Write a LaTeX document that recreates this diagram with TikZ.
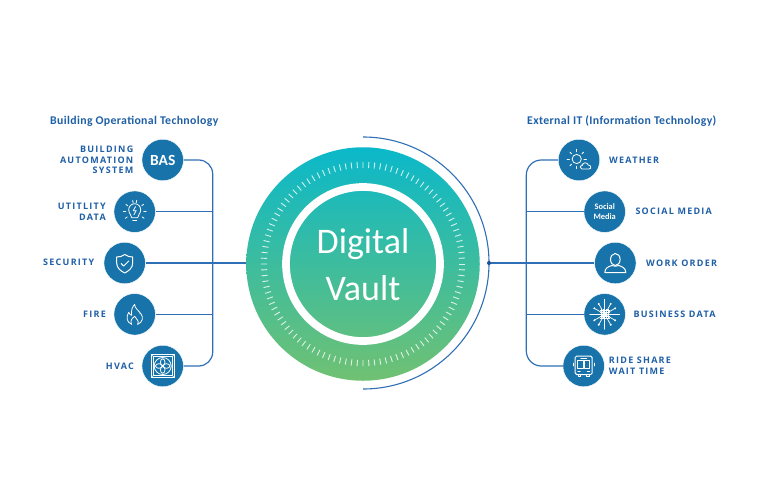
\documentclass[tikz,border=0pt]{standalone}
\usepackage{fontspec}
\setmainfont{Carlito}
\newfontfamily\tagfont[LetterSpace=14]{Open Sans}
\newfontfamily\headfont[LetterSpace=3]{Carlito}
\definecolor{hubblue}{HTML}{1773A9}
\definecolor{linkblue}{HTML}{2F6FB5}
\definecolor{dotblue}{HTML}{1A4F96}
\definecolor{textblue}{HTML}{1F5FA6}
\definecolor{vaulttop}{HTML}{0AB8CA}
\definecolor{vaultbot}{HTML}{70C172}
\tikzset{
  hub/.style={circle,fill=hubblue,draw=white,line width=.4pt,minimum size=41.5pt,inner sep=0pt,text=white,font=\bfseries,align=center},
  tag/.style={text=textblue,inner sep=0pt,font=\tagfont\bfseries\fontsize{9pt}{10.6pt}\selectfont},
  head/.style={text=textblue,inner sep=0pt,font=\headfont\bfseries\fontsize{11.8pt}{14pt}\selectfont},
  link/.style={linkblue,line width=1.2pt},
  icon/.style={white,line width=.8pt,line cap=round,line join=round},
  bulbicon/.pic={
    \draw[icon] (-3,6) .. controls (-3,3) and (-6,2) .. (-6,-2) arc[start angle=180,end angle=0,radius=6pt] .. controls (6,2) and (3,3) .. (3,6) -- cycle;
    \draw[icon] (-2,8.5) -- (2,8.5);
    \draw[icon] (.8,-5) -- (-1.5,-1) -- (1.5,-1) -- (-.8,3);
    \foreach \a in {0,40,80,100,140,180,215,325}
      \draw[icon] (\a:-9) -- (\a:-11.5);
  },
  shieldicon/.pic={
    \draw[icon,line width=1pt] (0,-8.5) .. controls (3,-6.5) and (5,-6) .. (8,-6) -- (8,0) .. controls (8,5) and (4,8) .. (0,10) .. controls (-4,8) and (-8,5) .. (-8,0) -- (-8,-6) .. controls (-5,-6) and (-3,-6.5) .. cycle;
    \draw[icon,line width=1pt] (-3.5,.5) -- (-1,3) -- (4,-2);
  },
  flameicon/.pic={
    \draw[icon] (-3,10) .. controls (-8,8) and (-9,3) .. (-6,-2) .. controls (-5,0) and (-4,1) .. (-3,1) .. controls (-4,-4) and (-2,-8) .. (0,-10) .. controls (0,-6) and (3,-5) .. (5,-2) .. controls (5,-1) and (6,0) .. (6,-1) .. controls (9,3) and (8,8) .. (3,10);
    \draw[icon] (-3,10) .. controls (-5,7) and (-3,4) .. (0,2) .. controls (1,5) and (5,6) .. (3,10);
  },
  fanicon/.pic={
    \draw[icon] (-11.5,-11.5) rectangle (11.5,11.5);
    \draw[icon,line width=.5pt] (-9.5,-9.5) rectangle (9.5,9.5);
    \draw[icon] (0,0) circle[radius=8.5pt];
    \foreach \a in {0,90,180,270}
      \draw[icon,rotate=\a] (3.8,0) ellipse[x radius=3.4pt,y radius=2.3pt];
    \draw[icon,line width=.5pt] (-11.5,-11.5) -- (-9.5,-9.5) (11.5,11.5) -- (9.5,9.5) (-11.5,11.5) -- (-9.5,9.5) (11.5,-11.5) -- (9.5,-9.5);
  },
  sunicon/.pic={
    \draw[icon] (-2.3,-1) circle[radius=4.6pt];
    \foreach \a in {0,45,...,315}
      \draw[icon] (-2.3,-1) ++(\a:7.2) -- ++(\a:2.5);
    \draw[icon,fill=hubblue] (3,9) .. controls (.5,9) and (.5,5.5) .. (3.2,5.5) .. controls (3.5,2) and (8.5,2) .. (9.2,5) .. controls (12.5,5) and (12.5,9) .. (10,9) -- cycle;
  },
  personicon/.pic={
    \draw[icon,line width=1pt] (0,-3.5) ellipse[x radius=4.8pt,y radius=6pt];
    \draw[icon,line width=1pt] (-10.5,9.5) .. controls (-10.5,4.5) and (-6,3.5) .. (-3.5,2.5) .. controls (-1,3.5) and (1,3.5) .. (3.5,2.5) .. controls (6,3.5) and (10.5,4.5) .. (10.5,9.5) -- cycle;
  },
  dataicon/.pic={
    \foreach \a in {0,90,180,270}
      \draw[icon,line width=.7pt] (0,0) -- (\a:15);
    \foreach \a in {30,60,120,150,210,240,300,330}
      \draw[icon,line width=.7pt] (0,0) -- (\a:12);
    \foreach \a in {30,60,120,150,210,240,300,330}
      \fill[white] (\a:12) circle[radius=1.1pt];
    \foreach \s in {-3.6,-1.8,0,1.8,3.6}
      \draw[white,line width=.45pt] (\s,-5) -- (\s,5) (-5,\s) -- (5,\s);
  },
  busicon/.pic={
    \draw[icon,line width=1pt,rounded corners=1.5pt] (-8.5,-10) rectangle (8.5,8.5);
    \draw[icon] (-6,-6) rectangle (-.6,2);
    \draw[icon] (.6,-6) rectangle (6,2);
    \draw[icon] (-3,-8) -- (3,-8);
    \draw[icon] (-5.5,8.5) -- (-5.5,10.5) -- (-3,10.5) -- (-3,8.5);
    \draw[icon] (3,8.5) -- (3,10.5) -- (5.5,10.5) -- (5.5,8.5);
    \draw[icon] (-10.5,-3) -- (-10.5,0) (10.5,-3) -- (10.5,0);
    \draw[icon] (-6,5.5) -- (-3.5,5.5) (3.5,5.5) -- (6,5.5);
  }
}
\begin{document}
\begin{tikzpicture}[x=1pt,y=-1pt]
\useasboundingbox (0,0) rectangle (768,496);
% vault
\node[circle,top color=vaulttop,bottom color=vaultbot,minimum size=233.5pt,inner sep=0pt] (vault) at (363,264) {};
\foreach \a in {0,3.333,...,359}
  \draw[white,line width=.9pt,opacity=.8] (vault.center) ++(\a:96) -- ++(\a:6.2);
\node[circle,draw=white,line width=7.7pt,minimum size=154pt,inner sep=0pt] (core) at (363,264) {};
\node[text=white,align=center,inner sep=0pt,font=\fontsize{36pt}{47pt}\selectfont] (title) at (363,265) {Digital\\Vault};
% left side
\node[hub,font=\bfseries\fontsize{15.5pt}{16pt}\selectfont] (BAS) at (162.7,160) {BAS};
\node[hub] (UTIL) at (134.7,211.7) {};
\node[hub] (SEC) at (124.7,263) {};
\node[hub] (FIRE) at (134.7,314.3) {};
\node[hub] (HVAC) at (162.7,366) {};
\coordinate (trunkL) at (212.7,263);
% right side
\node[hub] (WEA) at (579,160) {};
\node[hub,font=\bfseries\fontsize{8.4pt}{10pt}\selectfont] (SOC) at (604.7,211.7) {Social\\Media};
\node[hub] (WORK) at (615.3,263) {};
\node[hub] (BUS) at (604.7,314.3) {};
\node[hub] (RIDE) at (583.7,366) {};
\coordinate (trunkR) at (526.3,263);
\coordinate (dot) at (489,263);
% connectors
\draw[link,rounded corners=14pt] (BAS) -| (trunkL) |- (HVAC);
\draw[link,rounded corners=15pt] (WEA) -| (trunkR) |- (RIDE);
\path[link]
  (UTIL) edge (UTIL -| trunkL)
  (FIRE) edge (FIRE -| trunkL)
  (SOC) edge (SOC -| trunkR)
  (BUS) edge (BUS -| trunkR)
  (SEC) edge (SEC -| vault.west)
  (WORK) edge (dot)
;
\draw[linkblue,line width=1.1pt] (363,137) arc[start angle=90,end angle=-90,radius=126pt];
\fill[dotblue] (dot) circle[radius=2pt];
% icons
\pic at (UTIL) {bulbicon};
\pic at (SEC) {shieldicon};
\pic at (FIRE) {flameicon};
\pic at (HVAC) {fanicon};
\pic at (WEA) {sunicon};
\pic at (WORK) {personicon};
\pic at (BUS) {dataicon};
\pic at (RIDE) {busicon};
% labels
\node[head,anchor=west] (headL) at (50,121) {Building Operational Technology};
\node[head,anchor=west] (headR) at (527,121) {External IT (Information Technology)};
\node[tag,anchor=east,align=right] (tBAS) at (133.5,160) {BUILDING\\AUTOMATION\\SYSTEM};
\node[tag,anchor=east,align=right] (tUTIL) at (106,211.5) {UTITLITY\\DATA};
\node[tag,anchor=east] (tSEC) at (94.5,262) {SECURITY};
\node[tag,anchor=east] (tFIRE) at (106,314) {FIRE};
\node[tag,anchor=east] (tHVAC) at (134,366) {HVAC};
\node[tag,anchor=west] (tWEA) at (609,160) {WEATHER};
\node[tag,anchor=west] (tSOC) at (635.3,211.7) {SOCIAL MEDIA};
\node[tag,anchor=west] (tWORK) at (646,263) {WORK ORDER};
\node[tag,anchor=west] (tBUS) at (633.3,314.3) {BUSINESS DATA};
\node[tag,anchor=west,align=left] (tRIDE) at (608.7,366) {RIDE SHARE\\WAIT TIME};
\end{tikzpicture}
\end{document}
